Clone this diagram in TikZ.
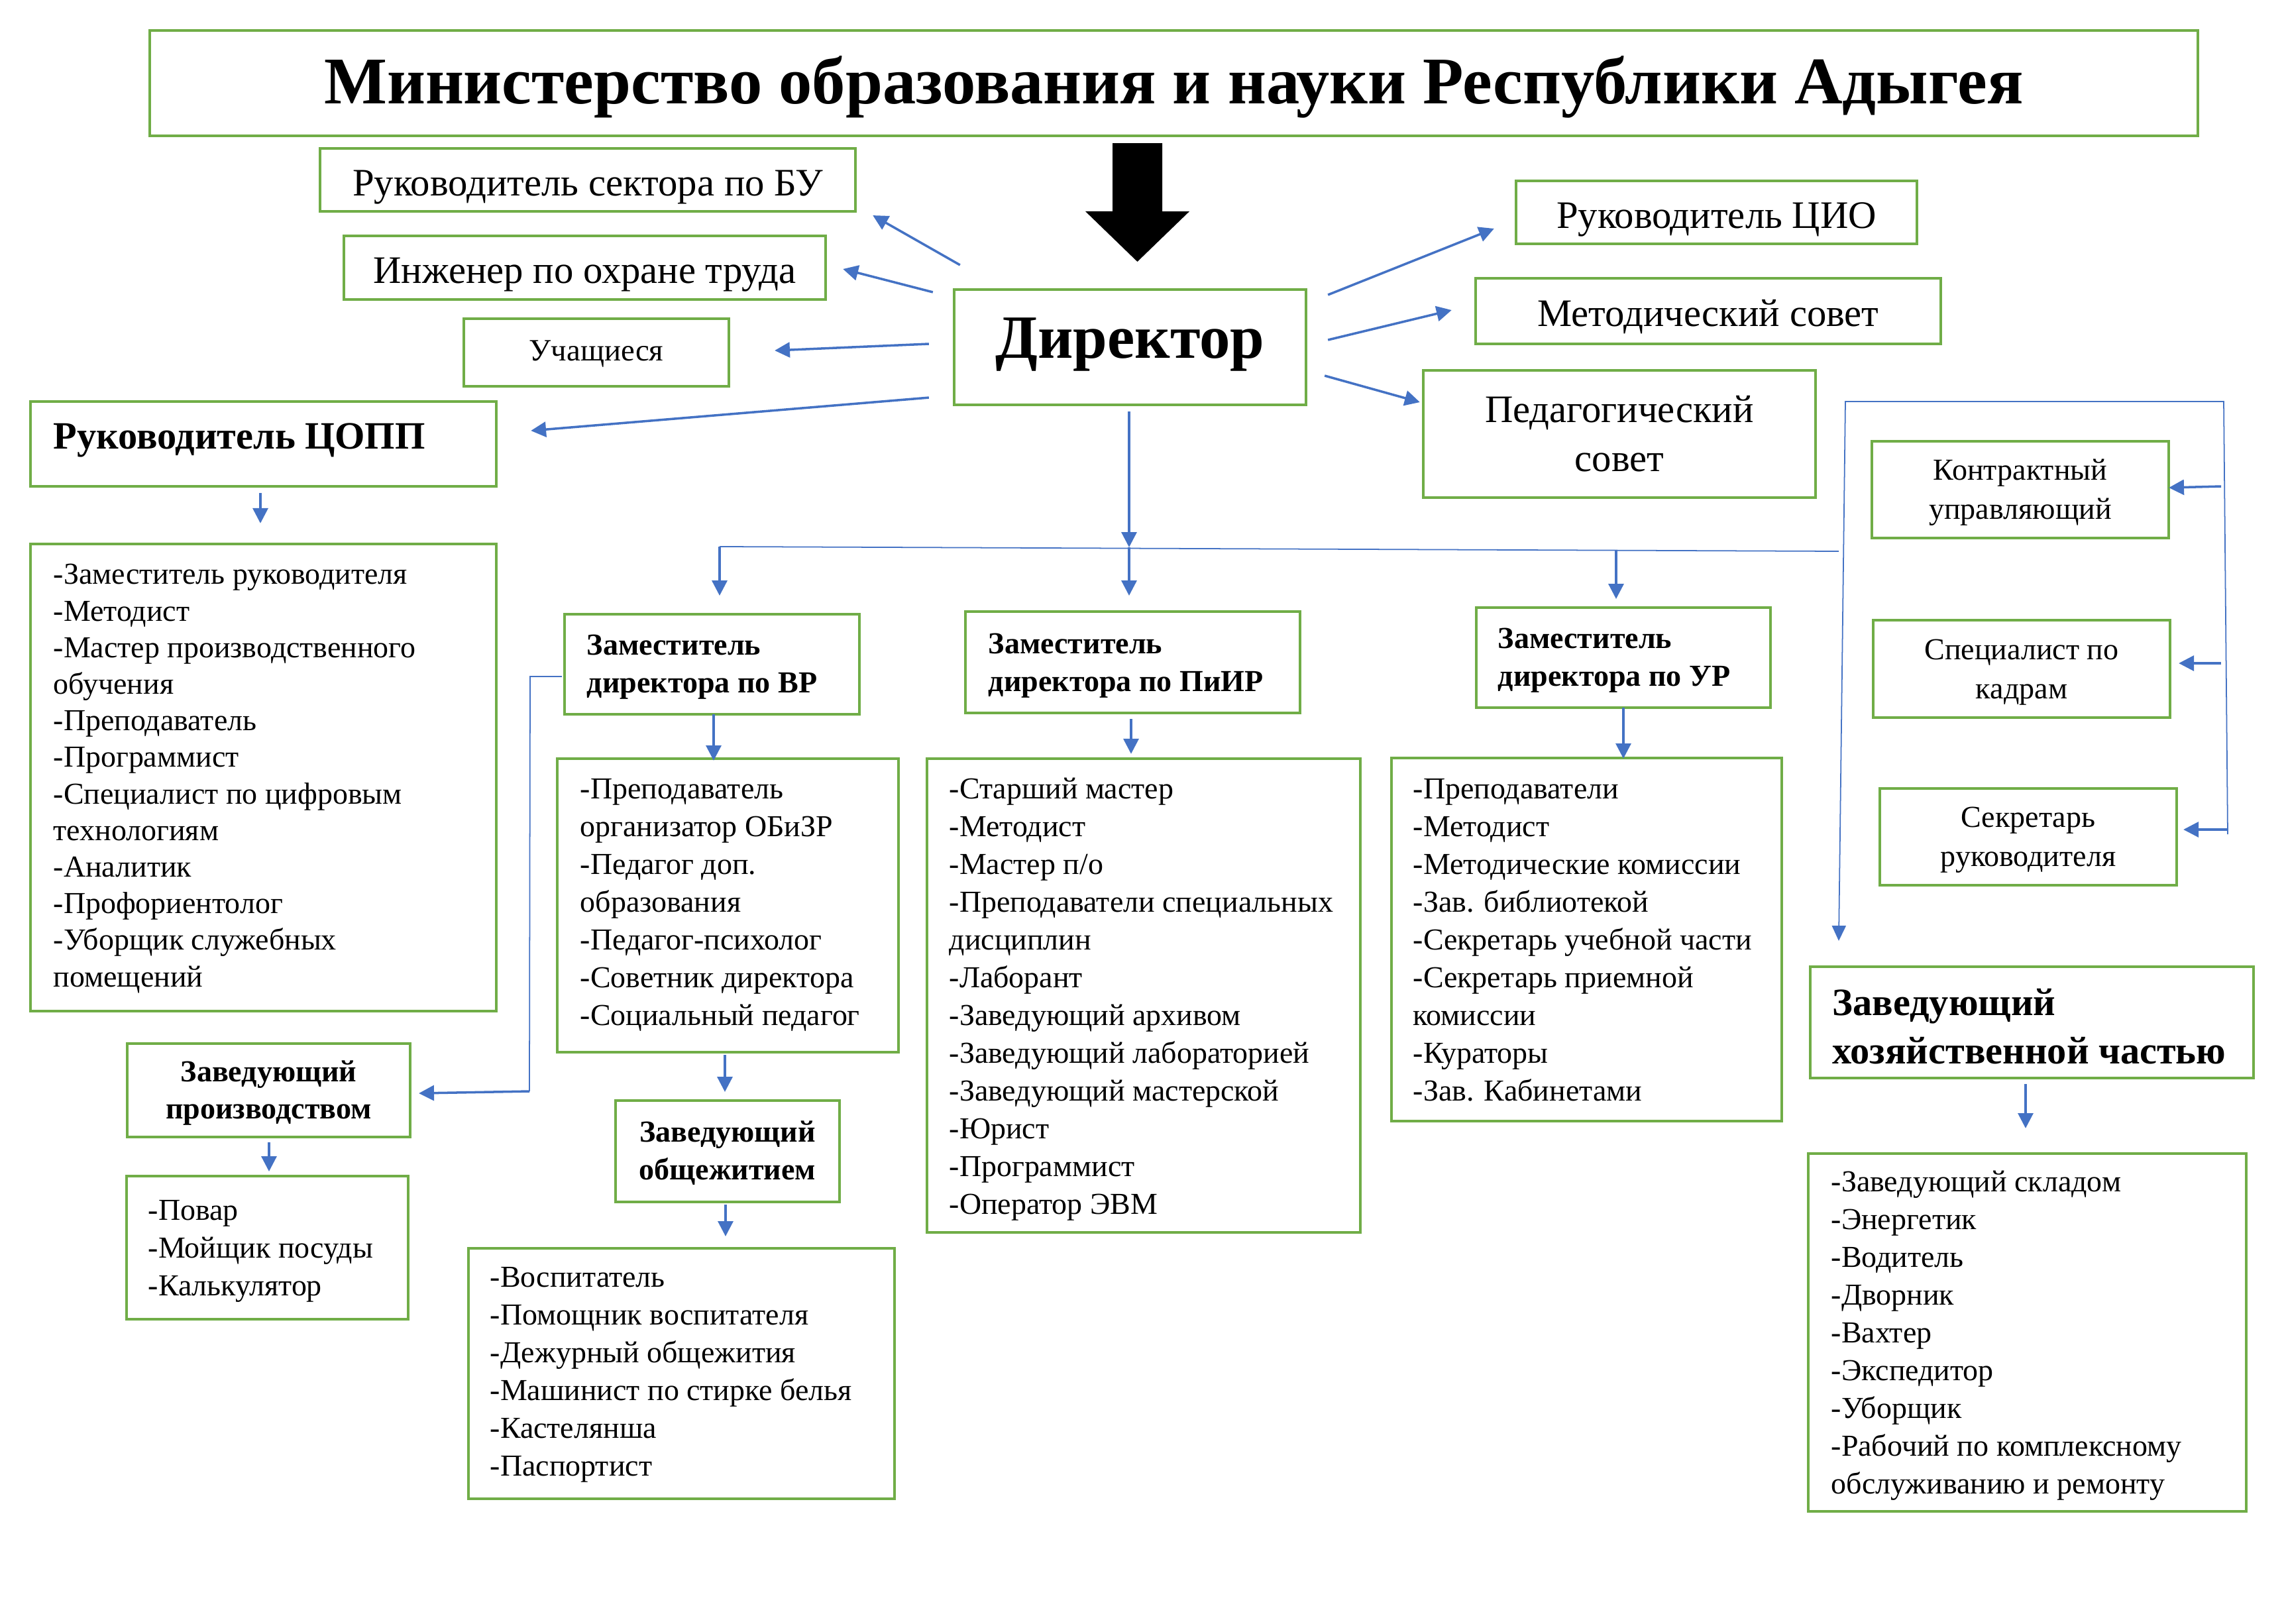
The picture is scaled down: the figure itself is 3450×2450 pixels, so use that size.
\documentclass[tikz,border=0pt]{standalone}
\usepackage{fontspec}
\setmainfont{Liberation Serif}
\usetikzlibrary{arrows.meta,calc}
\definecolor{grn}{HTML}{70AD47}
\definecolor{blu}{HTML}{4472C4}
\begin{document}
\begin{tikzpicture}[x=0.01cm,y=-0.01cm,
  gbox/.style={draw=grn, line width=1.1pt, inner sep=0pt, outer sep=0pt},
  arr/.style={draw=blu, line width=1pt, -{Triangle[length=6.5pt,width=6.5pt]}},
  thinln/.style={draw=blu, line width=0.5pt},
  tarr/.style={thinln, -{Triangle[length=6.5pt,width=6pt]}},
  bigf/.style={font=\fontsize{16.7}{21}\selectfont, align=center, inner sep=0pt},
  medf/.style={font=\fontsize{13.1}{16.8}\selectfont, align=center, inner sep=0pt},
  lst/.style={font=\fontsize{13.07}{16.2}\selectfont, align=left, inner sep=0pt, anchor=west},
  hdr/.style={font=\bfseries\fontsize{13.1}{16.2}\selectfont, align=left, inner sep=0pt, anchor=west},
  chdr/.style={font=\bfseries\fontsize{13.1}{16.2}\selectfont, align=center, inner sep=0pt},
]
\fill[white] (0,0) rectangle (3450,2450);
\useasboundingbox (0,0) rectangle (3450,2450);

% top
\node[gbox, minimum width=30.89cm, minimum height=1.59cm] (min) at (1771.5,125.5) {};
\node[font=\bfseries\fontsize{28.6}{34}\selectfont, inner sep=0pt, yshift=-0.06cm] (min-t) at (min.center) {Министерство образования и науки Республики Адыгея};
\node[gbox, minimum width=5.31cm, minimum height=1.74cm] (dir) at (1705.5,524) {};
\node[font=\bfseries\fontsize{26.4}{30}\selectfont, inner sep=0pt, yshift=0.04cm] (dir-t) at (dir.center) {Директор};

% big black arrow
\coordinate (bt) at ($(dir.north |- min.south)+(11,11)$);
\coordinate (bh) at ($(dir.north)+(11,-42)$);
\fill[black] (bt) ++(-37.5,0) -- ++(75,0) -- ++(0,103) -- ++(41,0) -- (bh) -- ++(-78.5,-76) -- ++(41,0) -- cycle;

% left boxes
\node[gbox, minimum width=8.08cm, minimum height=0.95cm] (bu) at (887,271.5) {};
\node[bigf, yshift=-0.11cm] (bu-t) at (bu.center) {Руководитель сектора по БУ};
\node[gbox, minimum width=7.27cm, minimum height=0.96cm] (eng) at (882.5,404) {};
\node[bigf, yshift=-0.11cm] (eng-t) at (eng.center) {Инженер по охране труда};
\node[gbox, minimum width=4cm, minimum height=1.02cm] (uch) at (900,532) {};
\node[medf, font=\fontsize{13.3}{16.8}\selectfont, yshift=-0.02cm] (uch-t) at (uch.center) {Учащиеся};
\node[gbox, minimum width=7.03cm, minimum height=1.28cm] (copp) at (397.5,670) {};
\node[font=\bfseries\fontsize{16.6}{20}\selectfont, inner sep=0pt, anchor=base west] (copp-t) at (80,677) {Руководитель ЦОПП};

% right boxes
\node[gbox, minimum width=6.05cm, minimum height=0.95cm] (cio) at (2590.5,320.5) {};
\node[bigf, yshift=-0.11cm] (cio-t) at (cio.center) {Руководитель ЦИО};
\node[gbox, minimum width=7.02cm, minimum height=0.99cm] (met) at (2578,469.5) {};
\node[bigf, yshift=-0.09cm] (met-t) at (met.center) {Методический совет};
\node[gbox, minimum width=5.92cm, minimum height=1.92cm] (ped) at (2444,655) {};
\node[bigf] (ped-t) at (ped.center) {Педагогический\\совет};
\node[gbox, minimum width=4.48cm, minimum height=1.46cm] (kontr) at (3049,739) {};
\node[medf, yshift=-0.04cm] (kontr-t) at (kontr.center) {Контрактный\\управляющий};
\node[gbox, minimum width=4.48cm, minimum height=1.47cm] (kadr) at (3051,1009.5) {};
\node[medf, yshift=-0.05cm] (kadr-t) at (kadr.center) {Специалист по\\кадрам};
\node[gbox, minimum width=4.48cm, minimum height=1.46cm] (sekr) at (3061,1263) {};
\node[medf, yshift=-0.05cm] (sekr-t) at (sekr.center) {Секретарь\\руководителя};

% deputies
\node[gbox, minimum width=4.45cm, minimum height=1.51cm] (vr) at (1074.5,1002.5) {};
\node[hdr] (vr-t) at (885,1007) {Заместитель\\директора по ВР};
\node[gbox, minimum width=5.05cm, minimum height=1.53cm] (pir) at (1709.5,999.5) {};
\node[hdr] (pir-t) at (1491,1005) {Заместитель\\директора по ПиИР};
\node[gbox, minimum width=4.44cm, minimum height=1.51cm] (ur) at (2450,992.5) {};
\node[hdr] (ur-t) at (2260,996.5) {Заместитель\\директора по УР};
\node[gbox, minimum width=3.38cm, minimum height=1.53cm] (obsh) at (1098,1737.5) {};
\node[chdr, yshift=-0.03cm] (obsh-t) at (obsh.center) {Заведующий\\общежитием};
\node[gbox, minimum width=4.27cm, minimum height=1.41cm] (proizv) at (405.5,1645.5) {};
\node[chdr, yshift=-0.04cm] (proizv-t) at (proizv.center) {Заведующий\\производством};
\node[gbox, minimum width=6.69cm, minimum height=1.68cm] (hoz) at (3066.5,1543) {};
\node[font=\bfseries\fontsize{16.6}{20.8}\selectfont, align=left, inner sep=0pt, anchor=west] (hoz-t) at (2765,1549) {Заведующий\\хозяйственной частью};

% lists
\node[gbox, minimum width=7.03cm, minimum height=7.05cm] (coppL) at (397.5,1173.5) {};
\node[lst, font=\fontsize{13.07}{15.7}\selectfont] (coppL-t) at (80,1175) {-Заместитель руководителя\\-Методист\\-Мастер производственного\\обучения\\-Преподаватель\\-Программист\\-Специалист по цифровым\\технологиям\\-Аналитик\\-Профориентолог\\-Уборщик служебных\\помещений};
\node[gbox, minimum width=5.15cm, minimum height=4.43cm] (vrL) at (1098.5,1366.5) {};
\node[lst] (vrL-t) at (875,1366) {-Преподаватель\\организатор ОБиЗР\\-Педагог доп.\\образования\\-Педагог-психолог\\-Советник директора\\-Социальный педагог};
\node[gbox, minimum width=6.54cm, minimum height=7.15cm] (pirL) at (1726,1502.5) {};
\node[lst] (pirL-t) at (1432,1508) {-Старший мастер\\-Методист\\-Мастер п/о\\-Преподаватели специальных\\дисциплин\\-Лаборант\\-Заведующий архивом\\-Заведующий лабораторией\\-Заведующий мастерской\\-Юрист\\-Программист\\-Оператор ЭВМ};
\node[gbox, minimum width=5.89cm, minimum height=5.48cm] (urL) at (2394.5,1418) {};
\node[lst] (urL-t) at (2132,1419) {-Преподаватели\\-Методист\\-Методические комиссии\\-Зав. библиотекой\\-Секретарь учебной части\\-Секретарь приемной\\комиссии\\-Кураторы\\-Зав. Кабинетами};
\node[gbox, minimum width=6.43cm, minimum height=3.78cm] (obshL) at (1028.5,2073) {};
\node[lst] (obshL-t) at (739,2075) {-Воспитатель\\-Помощник воспитателя\\-Дежурный общежития\\-Машинист по стирке белья\\-Кастелянша\\-Паспортист};
\node[gbox, minimum width=4.25cm, minimum height=2.16cm] (proizvL) at (403.5,1883) {};
\node[lst] (proizvL-t) at (223,1888) {-Повар\\-Мойщик посуды\\-Калькулятор};
\node[gbox, minimum width=6.61cm, minimum height=5.40cm] (hozL) at (3059.5,2011) {};
\node[lst] (hozL-t) at (2763,2016) {-Заведующий складом\\-Энергетик\\-Водитель\\-Дворник\\-Вахтер\\-Экспедитор\\-Уборщик\\-Рабочий по комплексному\\обслуживанию и ремонту};

% connectors from director
\draw[arr] ($(dir.north west)+(9,-37)$) -- ($(bu.south east)+(26,6)$);
\draw[arr] ($(dir.north west)+(-32,4)$) -- ($(eng.east)+(26,2)$);
\draw[arr] ($(dir.west)+(-38,-5)$) -- ($(uch.east)+(69,-3)$);
\draw[arr] ($(dir.south west)+(-38,-11)$) -- ($(copp.east)+(52,-20)$);
\draw[arr] ($(dir.north east)+(33,8)$) -- ($(cio.west)+(-33,24.5)$);
\draw[arr] ($(dir.east)+(33,-11)$) -- ($(met.west)+(-36,-1.5)$);
\draw[arr] ($(dir.east)+(28,43)$) -- ($(ped.west)+(-5,-48)$);

% distribution line
\coordinate (hl) at ($(vr.north)+(11.5,-102)$);
\coordinate (hr) at (2775,832);
\coordinate (hm) at ($(pir.north)+(-5.5,-97)$);
\draw[thinln] (hl) -- (hr);
\draw[arr] ($(dir.south)+(-1.5,10)$) -- (hm);
\draw[arr] (hl) -- ($(vr.north)+(11.5,-28)$);
\draw[arr] (hm) -- ($(pir.north)+(-5.5,-24)$);
\draw[arr] ($(ur.north)+(-11,-86)$) -- ($(ur.north)+(-11,-13)$);

% vertical chains
\draw[arr] ($(copp.south)+(-4.5,10)$) -- ($(coppL.north)+(-4.5,-31)$);
\draw[arr] ($(vr.south)+(2.5,0)$) -- ($(vr.south |- vrL.north)+(2.5,3)$);
\draw[arr] ($(pir.south)+(-2.5,9)$) -- ($(pir.south |- pirL.north)+(-2.5,-7)$);
\draw[arr] (ur.south) -- ($(ur.south |- urL.north)+(0,1)$);
\draw[arr] ($(vrL.south)+(-4.5,4)$) -- ($(vrL.south |- obsh.north)+(-4.5,-13)$);
\draw[arr] ($(obsh.south)+(-3,4)$) -- ($(obsh.south |- obshL.north)+(-3,-18)$);
\draw[arr] ($(proizv.south)+(0.5,8)$) -- ($(proizv.south |- proizvL.north)+(0.5,-7)$);
\draw[arr] ($(hoz.south)+(-9.5,9)$) -- ($(hoz.south |- hozL.north)+(-9.5,-38)$);

% left bracket (VR -> production)
\coordinate (bl1) at (800,1021);
\coordinate (bl2) at (799,1647);
\draw[thinln] ($(vr.west)+(-4,18.5)$) -- (bl1) -- (bl2);
\draw[arr] (bl2) -- ($(proizv.east)+(13,4.5)$);

% right bracket
\coordinate (rb1) at (2785,606);
\coordinate (rb2) at (3356,606);
\coordinate (rb3) at (3362,1259);
\draw[tarr] (rb3) -- (rb2) -- (rb1) -- ($(hoz.north)+(-291.5,-39)$);
\draw[arr] ($(kontr.east)+(79,-5)$) -- ($(kontr.east)+(0,-3)$);
\draw[arr] ($(kadr.east)+(77,-8.5)$) -- ($(kadr.east)+(13,-8.5)$);
\draw[arr] ($(sekr.east)+(77,-11)$) -- ($(sekr.east)+(10,-11)$);
\end{tikzpicture}
\end{document}
